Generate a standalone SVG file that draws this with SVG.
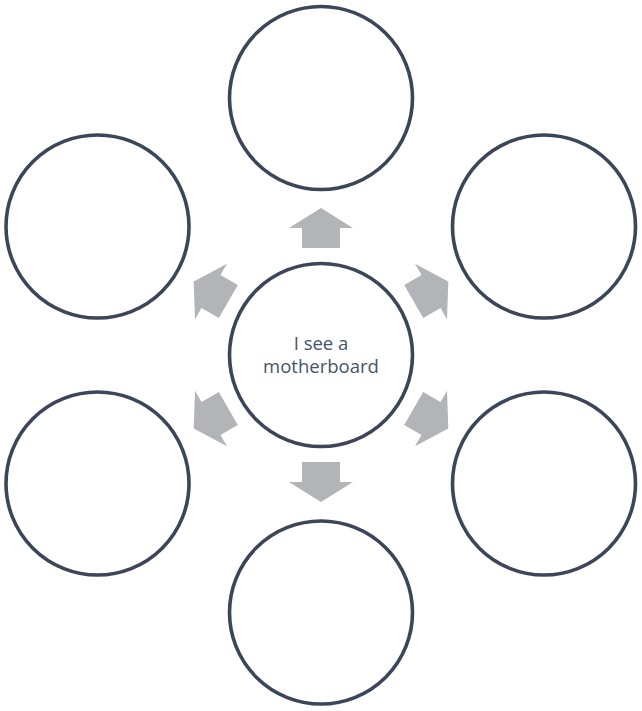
<svg xmlns="http://www.w3.org/2000/svg" width="642" height="711" viewBox="0 0 642 711">
<style>
.c{fill:#ffffff;stroke:#3b4658;stroke-width:3.6}
.a{fill:#b2b4b7}
.t{font-family:"Open Sans","Liberation Sans",sans-serif;font-size:18.5px;fill:#44546a;text-anchor:middle}
</style>
<defs>
<path id="arr" d="M0,-20 L32,0 L19,0 L19,20 L-19,20 L-19,0 L-32,0 Z"/>
</defs>
<rect width="642" height="711" fill="#ffffff"/>
<g id="connectors">
<use href="#arr" class="a" transform="translate(321,228)"/>
<use href="#arr" class="a" transform="translate(431,291.5) rotate(60)"/>
<use href="#arr" class="a" transform="translate(431,418.5) rotate(120)"/>
<use href="#arr" class="a" transform="translate(321,482) rotate(180)"/>
<use href="#arr" class="a" transform="translate(211,418.5) rotate(240)"/>
<use href="#arr" class="a" transform="translate(211,291.5) rotate(300)"/>
</g>
<g id="center">
<circle class="c" cx="321" cy="355" r="91.5"/>
<text class="t" x="321" y="350">I see a</text>
<text class="t" x="321" y="373">motherboard</text>
</g>
<g id="top"><circle class="c" cx="321" cy="98" r="91.5"/></g>
<g id="upper-right"><circle class="c" cx="544" cy="226.5" r="91.5"/></g>
<g id="lower-right"><circle class="c" cx="544" cy="483.5" r="91.5"/></g>
<g id="bottom"><circle class="c" cx="321" cy="612.5" r="91.5"/></g>
<g id="lower-left"><circle class="c" cx="97.5" cy="483.5" r="91.5"/></g>
<g id="upper-left"><circle class="c" cx="97.5" cy="226.5" r="91.5"/></g>
</svg>
